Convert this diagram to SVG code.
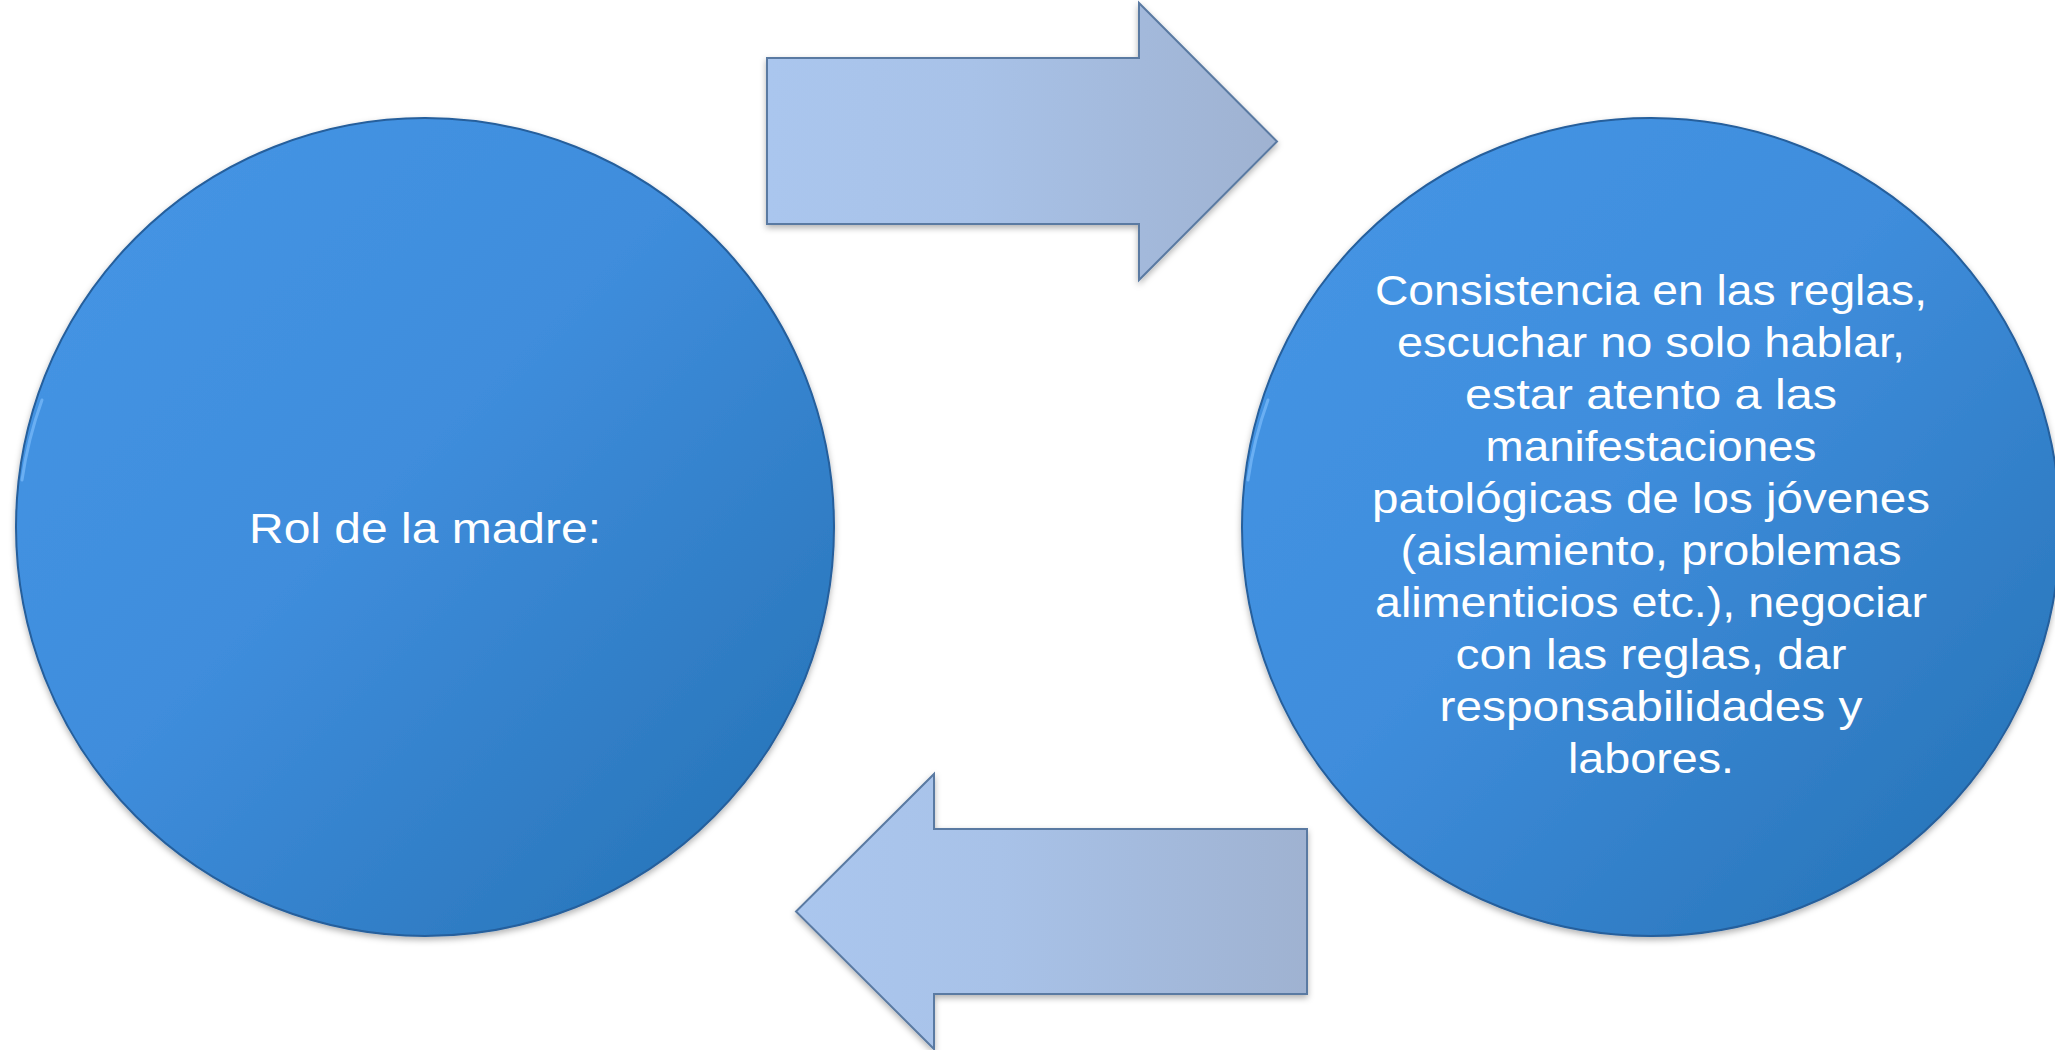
<svg xmlns="http://www.w3.org/2000/svg" width="2055" height="1050" viewBox="0 0 2055 1050">
<defs>
<linearGradient id="gCircle" x1="0" y1="0" x2="1" y2="1">
<stop offset="0" stop-color="#4696e6"/>
<stop offset="0.45" stop-color="#3f8ddc"/>
<stop offset="1" stop-color="#2370b2"/>
</linearGradient>
<linearGradient id="gArrow" x1="0" y1="0" x2="1" y2="0">
<stop offset="0" stop-color="#aac6ee"/>
<stop offset="0.4" stop-color="#a8c2e8"/>
<stop offset="1" stop-color="#9fb2d1"/>
</linearGradient>
<filter id="shadow" x="-10%" y="-10%" width="120%" height="125%">
<feDropShadow dx="0" dy="3" stdDeviation="3" flood-color="#000" flood-opacity="0.3"/>
</filter>
</defs>
<style>
.circle{fill:url(#gCircle);stroke:#255f9c;stroke-width:2;filter:url(#shadow)}
.hl{fill:none;stroke:#74b6f7;stroke-width:3;stroke-linecap:round;opacity:0.8}
.arrow{fill:url(#gArrow);stroke:#5a7aa2;stroke-width:2;stroke-linejoin:miter;filter:url(#shadow)}
.t{font-family:"Liberation Sans","Noto Sans",sans-serif;font-size:43px;fill:#ffffff;text-anchor:middle}
</style>
<rect width="2055" height="1050" fill="#ffffff"/>
<g id="connectors">
<polygon class="arrow" points="767,58 1139,58 1139,3 1277,141.5 1139,280 1139,224 767,224"/>
<polygon class="arrow" points="1307,829 934,829 934,774 796,911.5 934,1049 934,994 1307,994"/>
</g>
<g id="node-left">
<circle class="circle" cx="425" cy="527" r="409"/>
<path class="hl" d="M 22 480 A 407 407 0 0 1 42 400"/>
<text class="t" x="425" y="543" textLength="352" lengthAdjust="spacingAndGlyphs">Rol de la madre:</text>
</g>
<g id="node-right">
<circle class="circle" cx="1651" cy="527" r="409"/>
<path class="hl" d="M 1248 480 A 407 407 0 0 1 1268 400"/>
<text class="t" x="1651" y="305" textLength="552" lengthAdjust="spacingAndGlyphs">Consistencia en las reglas,</text>
<text class="t" x="1651" y="357" textLength="508" lengthAdjust="spacingAndGlyphs">escuchar no solo hablar,</text>
<text class="t" x="1651" y="409" textLength="372" lengthAdjust="spacingAndGlyphs">estar atento a las</text>
<text class="t" x="1651" y="461" textLength="331" lengthAdjust="spacingAndGlyphs">manifestaciones</text>
<text class="t" x="1651" y="513" textLength="558" lengthAdjust="spacingAndGlyphs">patológicas de los jóvenes</text>
<text class="t" x="1651" y="565" textLength="501" lengthAdjust="spacingAndGlyphs">(aislamiento, problemas</text>
<text class="t" x="1651" y="617" textLength="552" lengthAdjust="spacingAndGlyphs">alimenticios etc.), negociar</text>
<text class="t" x="1651" y="669" textLength="391" lengthAdjust="spacingAndGlyphs">con las reglas, dar</text>
<text class="t" x="1651" y="721" textLength="423" lengthAdjust="spacingAndGlyphs">responsabilidades y</text>
<text class="t" x="1651" y="773" textLength="166" lengthAdjust="spacingAndGlyphs">labores.</text>
</g>
</svg>
